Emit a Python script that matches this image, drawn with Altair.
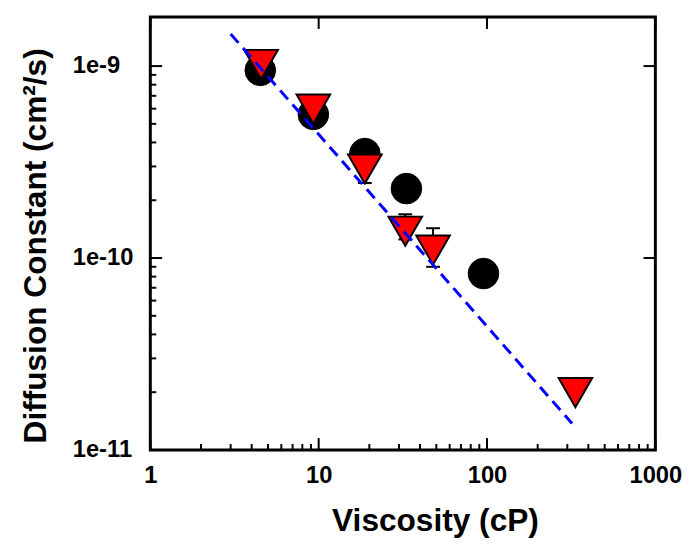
import altair as alt
import pandas as pd

# --- data ---
circ_x = [4.5, 9.3, 18.8, 33.2, 95.3]
circ_y = [9.5e-10, 5.6e-10, 3.5e-10, 2.3e-10, 8.3e-11]

tri_x = [4.55, 9.3, 18.8, 32.7, 47.8, 335]
tri_y = [1.02e-9, 5.97e-10, 2.91e-10, 1.38e-10, 1.1e-10, 1.99e-11]

err_x = [18.8, 32.7, 47.8]
err_lo = [2.46e-10, 1.25e-10, 9.0e-11]
err_hi = [3.4e-10, 1.69e-10, 1.43e-10]

fit_x = [3, 320]
fit_y = [1.47e-9, 1.375e-11]

x_major = [1, 10, 100, 1000]
x_minor = [2, 3, 4, 5, 6, 7, 8, 9, 20, 30, 40, 50, 60, 70, 80, 90,
           200, 300, 400, 500, 600, 700, 800, 900]
y_major = [1e-11, 1e-10, 1e-9]
y_minor = [2e-11, 3e-11, 4e-11, 5e-11, 6e-11, 7e-11, 8e-11, 9e-11,
           2e-10, 3e-10, 4e-10, 5e-10, 6e-10, 7e-10, 8e-10, 9e-10]

W, H = 511, 438
FONT = "Liberation Sans"

xs = alt.Scale(type="log", domain=[1, 1000], nice=False)
ys = alt.Scale(type="log", domain=[1e-11, 1.8e-9], nice=False)

x_axis = alt.Axis(values=x_major, format="d", title="Viscosity (cP)",
                  grid=False, domain=False, ticks=False, tickSize=0,
                  labelFlush=False,
                  labelFont=FONT, labelFontSize=24, labelFontWeight="bold",
                  labelColor="black", labelPadding=14,
                  titleFont=FONT, titleFontSize=32, titleFontWeight="bold",
                  titleColor="black", titleBaseline="alphabetic",
                  titleY=81, titleX=288)
y_axis = alt.Axis(values=y_major,
                  labelExpr="'1e' + round(log(datum.value) / LN10)",
                  title="Diffusion Constant (cm²/s)",
                  grid=False, domain=False, ticks=False, tickSize=0,
                  labelFlush=False,
                  labelFont=FONT, labelFontSize=24, labelFontWeight="bold",
                  labelColor="black", labelAlign="left", labelPadding=79,
                  titleFont=FONT, titleFontSize=32, titleFontWeight="bold",
                  titleColor="black", titleBaseline="alphabetic",
                  titleAngle=270, titleX=-106, titleY=231)

circ_df = pd.DataFrame({"x": circ_x, "y": circ_y})
tri_df = pd.DataFrame({"x": tri_x, "y": tri_y})
err_df = pd.DataFrame({"x": err_x, "lo": err_lo, "hi": err_hi})
cap_df = pd.DataFrame({"x": err_x + err_x, "y": err_lo + err_hi})
fit_df = pd.DataFrame({"x": fit_x, "y": fit_y})

circles = alt.Chart(circ_df).mark_point(
    shape="circle", filled=True, fill="black", stroke="black",
    strokeWidth=1, size=960, opacity=1
).encode(x=alt.X("x:Q", scale=xs, axis=x_axis),
         y=alt.Y("y:Q", scale=ys, axis=y_axis))

err_rules = alt.Chart(err_df).mark_rule(color="black", strokeWidth=2).encode(
    x=alt.X("x:Q", scale=xs), y=alt.Y("lo:Q", scale=ys), y2="hi:Q")

caps = alt.Chart(cap_df).mark_tick(
    color="black", orient="horizontal", size=14, thickness=2, opacity=1
).encode(x=alt.X("x:Q", scale=xs), y=alt.Y("y:Q", scale=ys))

tri_path = "M-1,-0.866L1,-0.866L0,0.866Z"
triangles = alt.Chart(tri_df).mark_point(
    shape=tri_path, filled=True, fill="#ff0000", stroke="black",
    strokeWidth=2, size=1156, opacity=1
).encode(x=alt.X("x:Q", scale=xs), y=alt.Y("y:Q", scale=ys))

fit = alt.Chart(fit_df).mark_line(
    color="#0000ff", strokeWidth=3, strokeDash=[12, 7]
).encode(x=alt.X("x:Q", scale=xs), y=alt.Y("y:Q", scale=ys))

# inward ticks
bx_minor = alt.Chart(pd.DataFrame({"v": x_minor})).mark_rule(
    color="black", strokeWidth=2).encode(
    x=alt.X("v:Q", scale=xs), y=alt.value(H), y2=alt.value(H - 6))
bx_major = alt.Chart(pd.DataFrame({"v": x_major})).mark_rule(
    color="black", strokeWidth=2).encode(
    x=alt.X("v:Q", scale=xs), y=alt.value(H), y2=alt.value(H - 12))
tx_major = alt.Chart(pd.DataFrame({"v": x_major})).mark_rule(
    color="black", strokeWidth=2).encode(
    x=alt.X("v:Q", scale=xs), y=alt.value(0), y2=alt.value(12))
ly_minor = alt.Chart(pd.DataFrame({"v": y_minor})).mark_rule(
    color="black", strokeWidth=2).encode(
    y=alt.Y("v:Q", scale=ys), x=alt.value(0), x2=alt.value(6))
ly_major = alt.Chart(pd.DataFrame({"v": y_major})).mark_rule(
    color="black", strokeWidth=2).encode(
    y=alt.Y("v:Q", scale=ys), x=alt.value(0), x2=alt.value(12))
ry_major = alt.Chart(pd.DataFrame({"v": y_major})).mark_rule(
    color="black", strokeWidth=2).encode(
    y=alt.Y("v:Q", scale=ys), x=alt.value(W), x2=alt.value(W - 12))

chart = alt.layer(
    circles, err_rules, caps, triangles, fit,
    bx_minor, bx_major, tx_major, ly_minor, ly_major, ry_major
).properties(
    width=W, height=H,
    padding={"left": 144, "top": 6, "right": 31, "bottom": 96},
    autosize=alt.AutoSizeParams(type="none"),
    background="white"
).configure_view(stroke="black", strokeWidth=3)

chart.save("out.html", embed_options={"renderer": "svg", "actions": False})
